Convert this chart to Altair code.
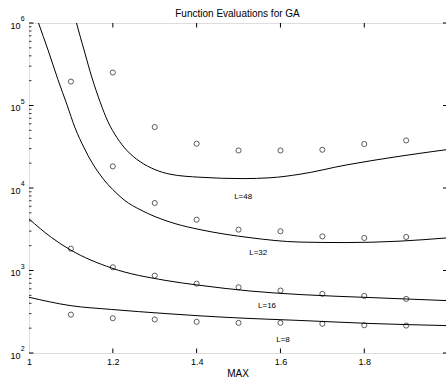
import altair as alt
import pandas as pd

FONT = "Liberation Sans"

# ---- circles (measured function evaluations) ----
max_pts = [1.1, 1.2, 1.3, 1.4, 1.5, 1.6, 1.7, 1.8, 1.9]
L48_pts = [195000, 251000, 54800, 34400, 28500, 28500, 29100, 34100, 37700]
L32_pts = [None, 18300, 6580, 4130, 3130, 2990, 2590, 2480, 2550]
L16_pts = [1840, 1094, 867, 693, 626, 571, 521, 492, 453]
L8_pts = [292, 264, 255, 239, 232, 232, 226, 217, 215]

# ---- model curves ----
L48_cx = [1.1026, 1.1134, 1.1313, 1.1504, 1.1695, 1.1885, 1.2100, 1.2339, 1.2649,
          1.3007, 1.3365, 1.4081, 1.5107, 1.5752, 1.6468, 1.7566, 1.8759, 1.9952]
L48_cy = [1660000, 1000000, 472000, 216000, 111000, 63500, 40700, 28400, 20900,
          16700, 14700, 13500, 13000, 13300, 14700, 19000, 23900, 29100]
L32_cx = [1.0119, 1.0227, 1.0453, 1.0692, 1.0907, 1.1098, 1.1313, 1.1504, 1.1695,
          1.1885, 1.2100, 1.2291, 1.2649, 1.3007, 1.3484, 1.4081, 1.5274, 1.6468,
          1.7566, 1.8854, 1.9952]
L32_cy = [1440000, 1000000, 472000, 205000, 102000, 53700, 30800, 20300, 14500,
          11000, 8540, 7030, 5470, 4500, 3700, 3130, 2500, 2210,
          2180, 2270, 2480]
L16_cx = [1.0, 1.0542, 1.0979, 1.1974, 1.3246, 1.4081, 1.5274, 1.6468, 1.8138, 1.9952]
L16_cy = [4220, 2500, 1790, 1070, 760, 661, 564, 511, 470, 432]
L8_cx = [1.0, 1.0979, 1.1974, 1.3246, 1.4081, 1.5274, 1.6468, 1.8138, 1.9952]
L8_cy = [474, 376, 337, 301, 282, 262, 248, 228, 215]

# ---- curve labels ----
label_text = ["L=48", "L=32", "L=16", "L=8"]
label_x = [1.511, 1.547, 1.568, 1.606]
label_y = [7850, 1650, 376, 142]

# ---- axis ticks ----
x_ticks = [1.0, 1.2, 1.4, 1.6, 1.8]
x_inner_ticks = [1.2, 1.4, 1.6, 1.8]
y_ticks = [100, 1000, 10000, 100000, 1000000]
y_exps = ["2", "3", "4", "5", "6"]
y_minor = [m * 10 ** k for k in range(2, 6) for m in range(2, 10)]

W, H = 417, 330

curves = []
for name, xs, ys in [("L48", L48_cx, L48_cy), ("L32", L32_cx, L32_cy),
                     ("L16", L16_cx, L16_cy), ("L8", L8_cx, L8_cy)]:
    for i, (a, b) in enumerate(zip(xs, ys)):
        curves.append({"s": name, "i": i, "x": a, "y": b})
curves = pd.DataFrame(curves)

pts = []
for name, ys in [("L48", L48_pts), ("L32", L32_pts), ("L16", L16_pts), ("L8", L8_pts)]:
    for a, b in zip(max_pts, ys):
        if b is not None:
            pts.append({"s": name, "x": a, "y": b})
pts = pd.DataFrame(pts)

labels = pd.DataFrame({"x": label_x, "y": label_y, "t": label_text})

xscale = alt.Scale(domain=[1, 1.995], nice=False, zero=False)
yscale = alt.Scale(type="log", domain=[100, 1000000], nice=False)

lines = alt.Chart(curves).mark_line(
    color="black", strokeWidth=1, interpolate="monotone", clip=True
).encode(
    x=alt.X("x:Q", scale=xscale,
            axis=alt.Axis(values=x_ticks, format="~g", title="MAX", ticks=False,
                          domain=False, grid=False, labelPadding=4, titlePadding=2,
                          labelFlush=False,
                          labelFontSize=9, titleFontWeight="normal", titleFontSize=10)),
    y=alt.Y("y:Q", scale=yscale,
            axis=alt.Axis(values=y_ticks, title=None, ticks=False, domain=False, grid=False,
                          labelPadding=9, labelFontSize=9, labelOffset=2,
                          labelFlush=False, labelExpr="'10'")),
    detail="s:N",
    order="i:Q",
)

points = alt.Chart(pts).mark_point(
    shape="circle", filled=False, size=26, color="black", strokeWidth=0.9
).encode(x="x:Q", y="y:Q")

text = alt.Chart(labels).mark_text(
    font=FONT, fontSize=8, color="black"
).encode(x="x:Q", y="y:Q", text="t:N")

exps = alt.Chart(pd.DataFrame({"y": y_ticks, "e": y_exps})).mark_text(
    font=FONT, fontSize=7, color="black", align="left", baseline="middle", dy=-4
).encode(y="y:Q", x=alt.value(-8.3), text="e:N")

xt = pd.DataFrame({"x": x_inner_ticks})
yt = pd.DataFrame({"y": y_ticks})
ym = pd.DataFrame({"y": y_minor})

tick_bottom = alt.Chart(xt).mark_rule(color="black", strokeWidth=1).encode(
    x="x:Q", y=alt.value(H), y2=alt.value(H - 4.5))
tick_top = alt.Chart(xt).mark_rule(color="black", strokeWidth=1).encode(
    x="x:Q", y=alt.value(0), y2=alt.value(4.5))
tick_left = alt.Chart(yt).mark_rule(color="black", strokeWidth=1).encode(
    y="y:Q", x=alt.value(0), x2=alt.value(4.5))
tick_left_minor = alt.Chart(ym).mark_rule(color="black", strokeWidth=0.8).encode(
    y="y:Q", x=alt.value(0), x2=alt.value(2.5))
tick_right = alt.Chart(yt).mark_rule(color="black", strokeWidth=1).encode(
    y="y:Q", x=alt.value(W + 2), x2=alt.value(W - 3))

chart = alt.layer(
    lines, points, text, exps, tick_bottom, tick_top, tick_left, tick_left_minor, tick_right
).properties(
    width=W, height=H,
    title=alt.TitleParams("Function Evaluations for GA", font=FONT, fontSize=10,
                          fontWeight="normal", color="black", anchor="middle", offset=-4),
    autosize=alt.AutoSizeParams(type="none"),
    padding={"left": 29, "top": 23, "right": 0, "bottom": 32},
).configure_view(
    stroke="black", strokeWidth=1
).configure_axis(
    labelFont=FONT, labelColor="black",
    titleFont=FONT, titleColor="black",
).configure(background="white")

chart.save("out.html", embed_options={"renderer": "svg", "actions": False})
